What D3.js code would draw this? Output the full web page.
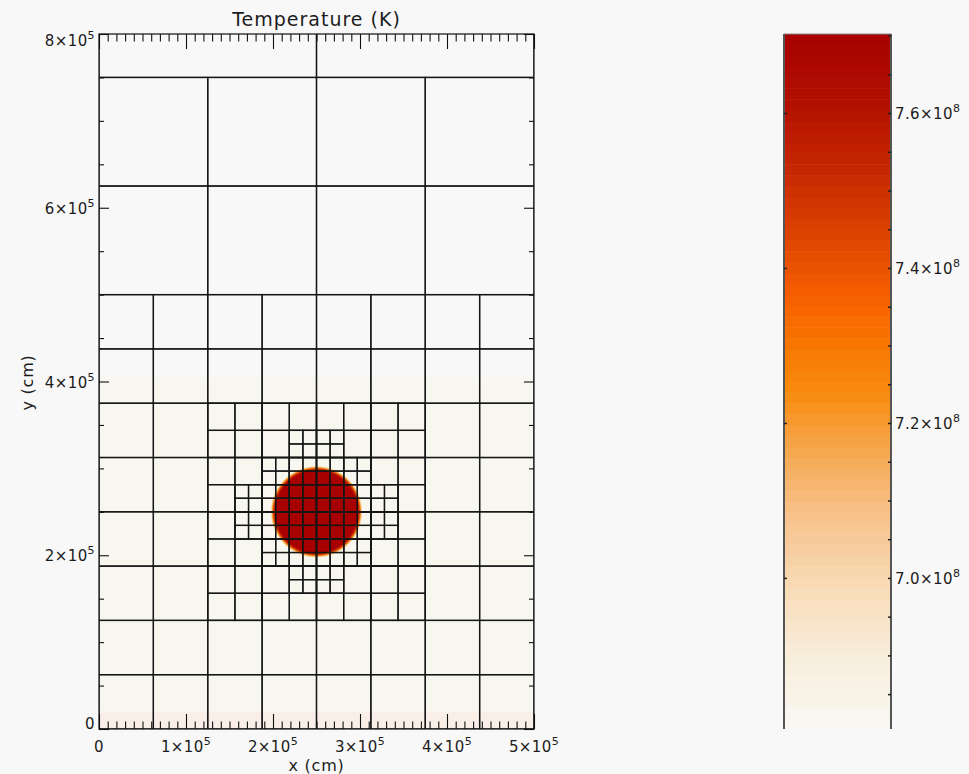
<!DOCTYPE html>
<html>
<head>
<meta charset="utf-8">
<script src="https://cdn.jsdelivr.net/npm/d3@7"></script>
<style>
  html, body { margin: 0; background: #f8f8f8; }
  svg { display: block; }
  text { font-family: "DejaVu Sans", sans-serif; fill: #1c1c1c; }
</style>
</head>
<body>
<svg id="chart" width="969" height="774"></svg>
<script>
// ---- data ----
const xDomain = [0, 5e5];
const yDomain = [0, 8e5];
const xTickValues = [0, 1e5, 2e5, 3e5, 4e5, 5e5];
const yTickValues = [0, 2e5, 4e5, 6e5, 8e5];
const tempDomain = [6.805e8, 7.702e8];
const cbTickValues = [7.0e8, 7.2e8, 7.4e8, 7.6e8];

// colour table (fraction of the temperature range -> colour)
const colorStops = [
  [0.00, "#f8f8f3"], [0.10, "#f8eedd"], [0.20, "#f8dcb8"], [0.30, "#f8c490"],
  [0.40, "#f6a850"], [0.48, "#f88c10"], [0.55, "#f87800"], [0.62, "#f86000"],
  [0.70, "#e04600"], [0.80, "#c82800"], [0.90, "#b41000"], [1.00, "#a60000"]
];

// mesh blocks per refinement level: block size and index ranges of drawn blocks
const gridLevels = [
  { size: 2.5e5,   cols: [0, 1],  rows: [3, 3] },
  { size: 1.25e5,  cols: [0, 3],  rows: [4, 5] },
  { size: 6.25e4,  cols: [0, 7],  rows: [0, 7] },
  { size: 3.125e4, cols: [4, 11], rows: [4, 11] }
];
// blocks of size 3.125e4 that are split once more: [row, firstCol, lastCol]
const refinedBlocks = [
  [5, 7, 8], [6, 6, 9], [7, 5, 10], [8, 5, 10], [9, 6, 9], [10, 7, 8]
];
const refinedSize = 3.125e4;

// temperature field: background layers and the hot bubble
const fieldLayers = [
  { y0: 0, y1: 4.05e5, color: "#f8f7ef" },
  { y0: 0, y1: 2.0e4,  color: "#f9efe8" }
];
const bubble = { x: 2.5e5, y: 2.5e5, r: 5e4 };

// ---- layout ----
const svg = d3.select("#chart");
const plot = { left: 99, right: 534, top: 34, bottom: 729 };
const cb = { left: 784, right: 891, top: 34, bottom: 729 };

const x = d3.scaleLinear().domain(xDomain).range([plot.left, plot.right]);
const y = d3.scaleLinear().domain(yDomain).range([plot.bottom, plot.top]);
const cy = d3.scaleLinear().domain(tempDomain).range([cb.bottom, cb.top]);

const colormap = d3.scaleLinear()
  .domain(colorStops.map(d => d[0]))
  .range(colorStops.map(d => d[1]))
  .interpolate(d3.interpolateRgb);

// label text of the form m×10^e
function sciLabel(sel, v, digits) {
  if (v === 0) { sel.text("0"); return; }
  const e = Math.floor(Math.log10(Math.abs(v)) + 1e-9);
  const m = v / Math.pow(10, e);
  const ms = digits ? m.toFixed(digits) : String(Math.round(m));
  sel.append("tspan").text(ms + "\u00d710");
  sel.append("tspan").attr("font-size", 11).attr("dy", -7).text(String(e));
}

// ---- plot area ----
svg.append("defs").append("clipPath").attr("id", "plotClip")
  .append("rect")
  .attr("x", plot.left).attr("y", plot.top)
  .attr("width", plot.right - plot.left).attr("height", plot.bottom - plot.top);

const field = svg.append("g").attr("clip-path", "url(#plotClip)");
field.selectAll("rect.layer").data(fieldLayers).join("rect")
  .attr("class", "layer")
  .attr("x", x(xDomain[0])).attr("width", x(xDomain[1]) - x(xDomain[0]))
  .attr("y", d => y(d.y1)).attr("height", d => y(d.y0) - y(d.y1))
  .attr("fill", d => d.color);

// bubble with a soft rim
const rPx = x(bubble.r) - x(0);
const rim = 2.5;
const grad = svg.select("defs").append("radialGradient").attr("id", "bubbleGrad");
const inner = (rPx - 2.5) / (rPx + rim);
[[0, "#a60000"], [inner, "#a80000"], [(rPx - 0.8) / (rPx + rim), "#cc3000"],
 [(rPx + 0.6) / (rPx + rim), "#f49020"], [(rPx + 1.6) / (rPx + rim), "#f8d8a0"],
 [1, "#f8f7ef"]].forEach(([o, c]) => grad.append("stop").attr("offset", o).attr("stop-color", c));
field.append("circle")
  .attr("cx", x(bubble.x)).attr("cy", y(bubble.y))
  .attr("r", rPx + rim)
  .attr("fill", "url(#bubbleGrad)");

// mesh
const blocks = [];
gridLevels.forEach(L => {
  for (let j = L.rows[0]; j <= L.rows[1]; j++)
    for (let i = L.cols[0]; i <= L.cols[1]; i++)
      blocks.push({ x0: i * L.size, y0: j * L.size, s: L.size });
});
refinedBlocks.forEach(([j, i0, i1]) => {
  for (let i = i0; i <= i1; i++)
    for (let dj = 0; dj < 2; dj++)
      for (let di = 0; di < 2; di++)
        blocks.push({ x0: i * refinedSize + di * refinedSize / 2,
                      y0: j * refinedSize + dj * refinedSize / 2, s: refinedSize / 2 });
});
field.selectAll("rect.block").data(blocks).join("rect")
  .attr("class", "block")
  .attr("x", d => x(d.x0)).attr("y", d => y(d.y0 + d.s))
  .attr("width", d => x(d.x0 + d.s) - x(d.x0))
  .attr("height", d => y(d.y0) - y(d.y0 + d.s))
  .attr("fill", "none").attr("stroke", "#151515").attr("stroke-width", 1.3);

// frame
svg.append("rect")
  .attr("x", plot.left).attr("y", plot.top)
  .attr("width", plot.right - plot.left).attr("height", plot.bottom - plot.top)
  .attr("fill", "none").attr("stroke", "#111").attr("stroke-width", 1.2);

// ticks (all pointing into the plot)
function tickAxis(axisFn, scale, values, size, transform) {
  const g = svg.append("g").attr("transform", transform)
    .call(axisFn(scale).tickValues(values).tickSize(size).tickFormat(""));
  g.select(".domain").remove();
  g.selectAll(".tick line").attr("stroke", "#111").attr("stroke-width", 1.1);
  return g;
}
const xMinor = d3.range(0, 5e5 + 1, 1e4).filter(v => v % 1e5 !== 0);
const yMinor = d3.range(0, 8e5 + 1, 5e4).filter(v => v % 2e5 !== 0);
tickAxis(d3.axisBottom, x, xMinor, -7.5, `translate(0,${plot.bottom})`);
tickAxis(d3.axisBottom, x, xTickValues, -15, `translate(0,${plot.bottom})`);
tickAxis(d3.axisTop, x, xMinor, -7.5, `translate(0,${plot.top})`);
tickAxis(d3.axisTop, x, xTickValues, -15, `translate(0,${plot.top})`);
tickAxis(d3.axisLeft, y, yMinor, -5, `translate(${plot.left},0)`);
tickAxis(d3.axisLeft, y, yTickValues, -10, `translate(${plot.left},0)`);
tickAxis(d3.axisRight, y, yMinor, -5, `translate(${plot.right},0)`);
tickAxis(d3.axisRight, y, yTickValues, -10, `translate(${plot.right},0)`);

// tick labels
const labelStyle = sel => sel.attr("font-size", 15).attr("letter-spacing", 0.4);
svg.append("g").selectAll("text").data(xTickValues).join("text")
  .attr("x", d => x(d)).attr("y", plot.bottom + 23)
  .attr("text-anchor", "middle").call(labelStyle)
  .each(function (d) { sciLabel(d3.select(this), d); });
svg.append("g").selectAll("text").data(yTickValues).join("text")
  .attr("x", plot.left - 4)
  .attr("y", (d, i) => y(d) + 6 + (i === 0 ? -6 : i === yTickValues.length - 1 ? 6 : 0))
  .attr("text-anchor", "end").call(labelStyle)
  .each(function (d) { sciLabel(d3.select(this), d); });

// titles
svg.append("text").attr("x", (plot.left + plot.right) / 2).attr("y", 26)
  .attr("text-anchor", "middle").attr("font-size", 19).attr("letter-spacing", 1)
  .text("Temperature (K)");
svg.append("text").attr("x", (plot.left + plot.right) / 2).attr("y", 771)
  .attr("text-anchor", "middle").attr("font-size", 16).attr("letter-spacing", 0.8)
  .text("x (cm)");
svg.append("text").attr("transform", `translate(33,${(plot.top + plot.bottom) / 2 + 1}) rotate(-90)`)
  .attr("text-anchor", "middle").attr("font-size", 16).attr("letter-spacing", 0.8)
  .text("y (cm)");

// ---- colour bar ----
const nBands = 64;
const dT = (tempDomain[1] - tempDomain[0]) / nBands;
const bands = d3.range(nBands).map(k => ({ t0: tempDomain[0] + k * dT, f: (k + 0.5) / nBands }));
svg.append("g").selectAll("rect").data(bands).join("rect")
  .attr("x", cb.left).attr("width", cb.right - cb.left)
  .attr("y", d => cy(d.t0 + dT)).attr("height", d => cy(d.t0) - cy(d.t0 + dT) + 0.5)
  .attr("fill", d => colormap(d.f));

svg.append("line").attr("x1", cb.left).attr("x2", cb.right)
  .attr("y1", cb.top).attr("y2", cb.top).attr("stroke", "#888").attr("stroke-width", 1);
[cb.left, cb.right].forEach(px => svg.append("line")
  .attr("x1", px).attr("x2", px).attr("y1", cb.top).attr("y2", cb.bottom)
  .attr("stroke", "#555").attr("stroke-width", 2));

const cbMinor = d3.range(6.85e8, tempDomain[1], 5e6).filter(v => Math.abs(v / 2e7 - Math.round(v / 2e7)) > 1e-6);
const cbRight = svg.append("g").attr("transform", `translate(${cb.right},0)`)
  .call(d3.axisLeft(cy).tickValues(cbMinor.concat(cbTickValues)).tickSize(3).tickFormat(""));
cbRight.select(".domain").remove();
cbRight.selectAll(".tick line").attr("stroke", "#222").attr("stroke-width", 1.5);
const cbLeft = svg.append("g").attr("transform", `translate(${cb.left},0)`)
  .call(d3.axisRight(cy).tickValues(cbTickValues).tickSize(3).tickFormat(""));
cbLeft.select(".domain").remove();
cbLeft.selectAll(".tick line").attr("stroke", "#222").attr("stroke-width", 1.5);

svg.append("g").selectAll("text").data(cbTickValues).join("text")
  .attr("x", cb.right + 4).attr("y", d => cy(d) + 6)
  .call(labelStyle)
  .each(function (d) { sciLabel(d3.select(this), d, 1); });
</script>
</body>
</html>
